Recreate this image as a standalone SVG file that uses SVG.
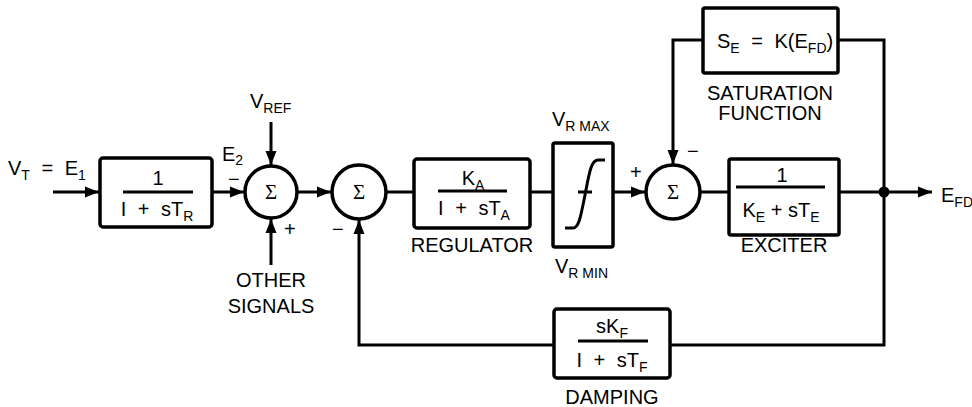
<svg xmlns="http://www.w3.org/2000/svg" width="972" height="407" viewBox="0 0 972 407">
<defs>
<marker id="arr" markerUnits="userSpaceOnUse" markerWidth="16" markerHeight="12" refX="14" refY="6" orient="auto">
<path d="M0,0.5 L14,6 L0,11.5 z" fill="#000"/>
</marker>
</defs>
<style>
.box{fill:#fff;stroke:#000;stroke-width:3.5}
.ln{fill:none;stroke:#000;stroke-width:3}
.t{font-family:"Liberation Sans",Arial,sans-serif;font-size:20px;fill:#000}
.m{text-anchor:middle}
.ws{word-spacing:6px}
.sub{font-size:14px}
.sig{font-family:"Liberation Serif","Times New Roman",serif;font-size:21px;text-anchor:middle;fill:#000}
</style>
<rect width="972" height="407" fill="#fff"/>
<g id="connectors">
<path class="ln" d="M53,192 H99" marker-end="url(#arr)"/>
<path class="ln" d="M212,192 H244" marker-end="url(#arr)"/>
<path class="ln" d="M271,122 V165" marker-end="url(#arr)"/>
<path class="ln" d="M271,265 V219" marker-end="url(#arr)"/>
<path class="ln" d="M297,192 H331" marker-end="url(#arr)"/>
<path class="ln" d="M386,192 H414"/>
<path class="ln" d="M530,192 H553"/>
<path class="ln" d="M613,192 H645" marker-end="url(#arr)"/>
<path class="ln" d="M700,192 H729"/>
<path class="ln" d="M703,40 H673 V164" marker-end="url(#arr)"/>
<path class="ln" d="M838,40 H884 V345 H670"/>
<path class="ln" d="M839,192 H932" marker-end="url(#arr)"/>
<path class="ln" d="M554,345 H359 V220" marker-end="url(#arr)"/>
<circle cx="884" cy="192" r="5.5" fill="#000"/>
</g>
<g id="input">
<text class="t ws" x="8" y="175">V<tspan class="sub" dy="5">T</tspan><tspan dy="-5"> = E</tspan><tspan class="sub" dy="5">1</tspan></text>
</g>
<g id="filter">
<rect class="box" x="100" y="158" width="112" height="69" rx="3"/>
<text class="t m" x="158" y="185">1</text>
<path class="ln" d="M123,192 H193" stroke-width="2"/>
<text class="t m ws" x="157" y="216">I + sT<tspan class="sub" dy="5">R</tspan></text>
</g>
<g id="sum1">
<circle class="box" cx="271" cy="192" r="26" stroke-width="3"/>
<text class="sig" x="271" y="199">Σ</text>
<text class="t" x="222" y="161">E<tspan class="sub" dy="4">2</tspan></text>
<text class="t" x="228" y="186">−</text>
<text class="t" x="284" y="236">+</text>
<text class="t" x="250" y="108">V<tspan class="sub" dy="5">REF</tspan></text>
<text class="t m" x="271" y="287">OTHER</text>
<text class="t m" x="271" y="313">SIGNALS</text>
</g>
<g id="sum2">
<circle class="box" cx="359" cy="192" r="27" stroke-width="3"/>
<text class="sig" x="359" y="199">Σ</text>
<text class="t" x="332" y="236">−</text>
</g>
<g id="regulator">
<rect class="box" x="414" y="159" width="116" height="69" rx="3"/>
<text class="t m" x="473" y="185">K<tspan class="sub" dy="5">A</tspan></text>
<path class="ln" d="M438,191 H507" stroke-width="2"/>
<text class="t m ws" x="474" y="215">I + sT<tspan class="sub" dy="5">A</tspan></text>
<text class="t m" x="472" y="252">REGULATOR</text>
</g>
<g id="limiter">
<rect class="box" x="553" y="143" width="60" height="104" rx="2"/>
<path class="ln" d="M565,228 H573 C579,228 581,215 585,195 C589,174 591,160 598,160 H605"/>
<path class="ln" d="M578,192 H592"/>
<text class="t" x="552" y="126">V<tspan class="sub" dy="5">R MAX</tspan></text>
<text class="t" x="555" y="273">V<tspan class="sub" dy="5">R MIN</tspan></text>
</g>
<g id="sum3">
<circle class="box" cx="673" cy="192" r="27" stroke-width="3"/>
<text class="sig" x="673" y="199">Σ</text>
<text class="t" x="630" y="179">+</text>
<text class="t" x="687" y="158">−</text>
</g>
<g id="saturation">
<rect class="box" x="703" y="8" width="135" height="65" rx="2"/>
<text class="t ws" x="717" y="48">S<tspan class="sub" dy="5">E</tspan><tspan dy="-5"> = K(E</tspan><tspan class="sub" dy="5">FD</tspan><tspan dy="-5">)</tspan></text>
<text class="t m" x="770" y="100">SATURATION</text>
<text class="t m" x="770" y="120">FUNCTION</text>
</g>
<g id="exciter">
<rect class="box" x="729" y="159" width="110" height="76" rx="2"/>
<text class="t m" x="782" y="182">1</text>
<path class="ln" d="M736,187 H825" stroke-width="2"/>
<text class="t m" x="781" y="217">K<tspan class="sub" dy="5">E</tspan><tspan dy="-5"> + sT</tspan><tspan class="sub" dy="5">E</tspan></text>
<text class="t m" x="784" y="252">EXCITER</text>
</g>
<g id="output">
<text class="t" x="941" y="202">E<tspan class="sub" dy="5">FD</tspan></text>
</g>
<g id="damping">
<rect class="box" x="554" y="309" width="116" height="69" rx="3"/>
<text class="t m" x="612" y="333">sK<tspan class="sub" dy="5">F</tspan></text>
<path class="ln" d="M578,341 H648" stroke-width="2"/>
<text class="t m ws" x="612" y="367">I + sT<tspan class="sub" dy="5">F</tspan></text>
<text class="t m" x="612" y="404">DAMPING</text>
</g>
</svg>
